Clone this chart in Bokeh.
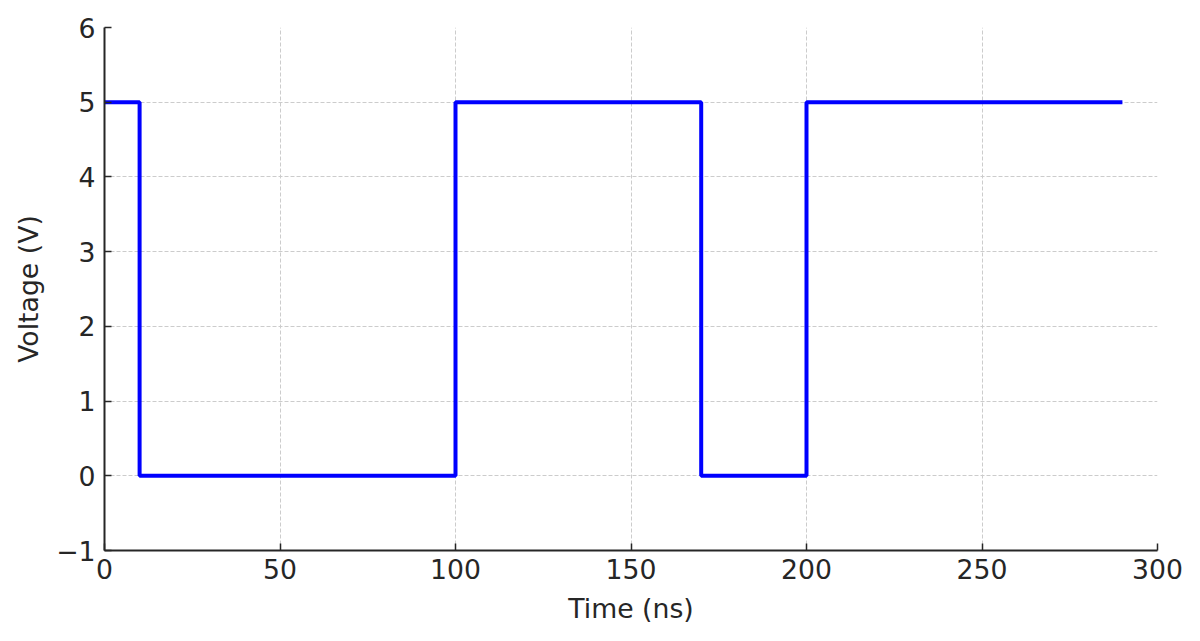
from bokeh.plotting import figure
from bokeh.models import Range1d, FixedTicker
from bokeh.embed import file_html
from bokeh.resources import INLINE

times = [0, 10, 100, 170, 200, 290]
volts = [5, 0, 5, 0, 5, 5]
x_ticks = [0, 50, 100, 150, 200, 250, 300]
y_ticks = [-1, 0, 1, 2, 3, 4, 5, 6]

p = figure(width=1200, height=641, output_backend="svg", toolbar_location=None,
           x_range=Range1d(0, 300), y_range=Range1d(-1, 6),
           min_border_left=104, min_border_right=43, min_border_top=27, min_border_bottom=91)
p.frame_width = 1053
p.frame_height = 523
p.outline_line_color = None

p.step(times, volts, mode="after", line_color="#0000ff", line_width=4)

FONT = "DejaVu Sans"
for ax, ticks in ((p.xaxis, x_ticks), (p.yaxis, y_ticks)):
    ax.ticker = FixedTicker(ticks=ticks)
    ax.major_label_text_font = FONT
    ax.major_label_text_font_size = "26.7px"
    ax.major_label_text_color = "#262626"
    ax.axis_label_text_font = FONT
    ax.axis_label_text_font_size = "26.7px"
    ax.axis_label_text_font_style = "normal"
    ax.axis_label_text_color = "#262626"
    ax.axis_line_color = "#262626"
    ax.axis_line_width = 2
    ax.major_tick_line_color = "#262626"
    ax.major_tick_line_width = 1.5
    ax.major_tick_in = 7
    ax.major_tick_out = 0
    ax.minor_tick_line_color = None

p.xaxis.axis_label = "Time (ns)"
p.yaxis.axis_label = "Voltage (V)"
p.xaxis.major_label_standoff = 8
p.yaxis.major_label_standoff = 9
p.xaxis.axis_label_standoff = 11
p.yaxis.axis_label_standoff = 9

for g in (p.xgrid, p.ygrid):
    g.grid_line_color = "#cccccc"
    g.grid_line_dash = "4 2"
    g.grid_line_width = 1

p.xgrid.ticker = FixedTicker(ticks=x_ticks)
p.ygrid.ticker = FixedTicker(ticks=y_ticks)

open("out.html", "w").write(file_html(p, INLINE))
